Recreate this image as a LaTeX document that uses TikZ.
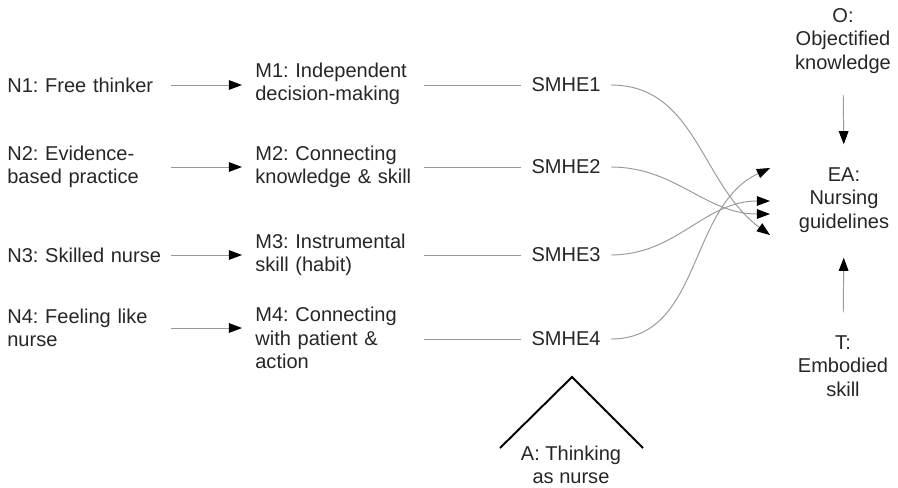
\documentclass[tikz,border=0pt]{standalone}
\usepackage{fontspec}
\setmainfont{Liberation Sans}
\usetikzlibrary{arrows.meta}
\frenchspacing

\tikzset{
	lbl/.style={font=\fontsize{11.4}{13.3}\selectfont, text=black!85, inner sep=0pt},
	lft/.style={lbl, align=left, anchor=west, text width=3.2cm},
	ctr/.style={lbl, align=center},
	conn/.style={draw=black!40, line width=0.55pt},
	arr/.style={conn, -{Triangle[length=7.5pt, width=5.5pt, black]}},
}

\begin{document}
\begin{tikzpicture}[x=0.02cm, y=-0.02cm]
	\useasboundingbox (0,0) rectangle (898,487);

	\node [lft] (n1) at (7,85) {N1: Free thinker};
	\node [lft] (n2) at (7,167) {N2: Evidence-\\based practice};
	\node [lft] (n3) at (7,255) {N3: Skilled nurse};
	\node [lft] (n4) at (7,328) {N4: Feeling like\\nurse};

	\node [lft] (m1) at (255,84) {M1: Independent\\decision-making};
	\node [lft] (m2) at (255,167) {M2: Connecting\\knowledge \& skill};
	\node [lft] (m3) at (255,255) {M3: Instrumental\\skill (habit)};
	\node [lft] (m4) at (255,338) {M4: Connecting\\with patient \&\\action};

	\node [ctr, inner xsep=0.2cm] (s1) at (566,85) {SMHE1};
	\node [ctr, inner xsep=0.2cm] (s2) at (566,167) {SMHE2};
	\node [ctr, inner xsep=0.2cm] (s3) at (566,255) {SMHE3};
	\node [ctr, inner xsep=0.2cm] (s4) at (566,339) {SMHE4};

	\node [ctr] (o) at (843,41) {O:\\Objectified\\knowledge};
	\node [ctr] (ea) at (844,200) {EA:\\Nursing\\guidelines};
	\node [ctr] (t) at (843,366) {T:\\Embodied\\skill};
	\node [ctr] (a) at (571,465) {A: Thinking\\as nurse};

	\coordinate (e1) at (770,235);
	\coordinate (e2) at (770,214);
	\coordinate (e3) at (770,201);
	\coordinate (e4) at (770,168);

	\foreach \i in {1,...,4} {
		\draw [arr, shorten <=0.06cm, shorten >=0.26cm] (n\i.east) -- (n\i.east -| m\i.west);
		\draw [conn, shorten <=0.16cm] (m\i.east |- s\i.west) -- (s\i.west);
	}

	\draw [arr] (s1.east) to [out=0, in=144] (e1);
	\draw [arr] (s2.east) to [out=0, in=180] (e2);
	\draw [arr] (s3.east) to [out=0, in=180] (e3);
	\draw [arr] (s4.east) to [out=0, in=205] (e4);

	\draw [arr, shorten <=0.42cm, shorten >=0.46cm] (o.south) -- (ea.north);
	\draw [arr, shorten <=0.46cm, shorten >=0.5cm] (t.north) -- (ea.south);

	\draw [line width=1.1pt] (500,448) -- (572,377) -- (643,448);
\end{tikzpicture}
\end{document}
